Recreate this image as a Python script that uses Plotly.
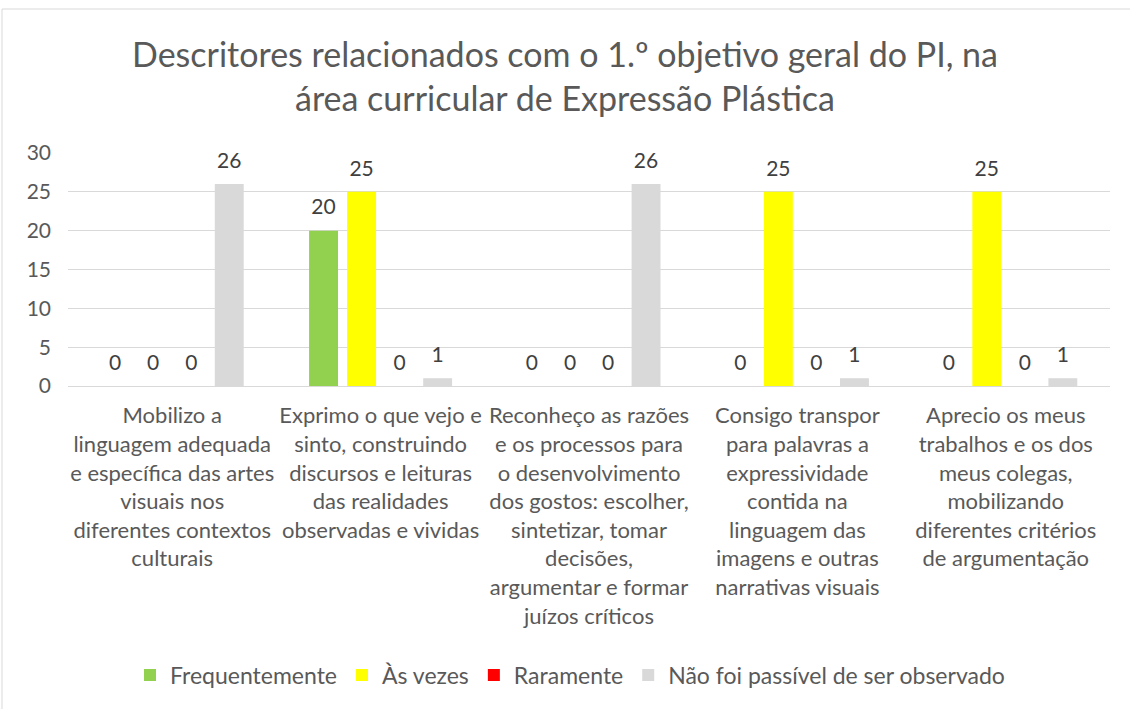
import plotly.graph_objects as go

categories = [
    "Mobilizo a<br>linguagem adequada<br>e específica das artes<br>visuais nos<br>diferentes contextos<br>culturais",
    "Exprimo o que vejo e<br>sinto, construindo<br>discursos e leituras<br>das realidades<br>observadas e vividas",
    "Reconheço as razões<br>e os processos para<br>o desenvolvimento<br>dos gostos: escolher,<br>sintetizar, tomar<br>decisões,<br>argumentar e formar<br>juízos críticos",
    "Consigo transpor<br>para palavras a<br>expressividade<br>contida na<br>linguagem das<br>imagens e outras<br>narrativas visuais",
    "Aprecio os meus<br>trabalhos e os dos<br>meus colegas,<br>mobilizando<br>diferentes critérios<br>de argumentação",
]
series_names = ["Frequentemente", "Às vezes", "Raramente", "Não foi passível de ser observado"]
frequentemente = [0, 20, 0, 0, 0]
as_vezes = [0, 25, 0, 25, 25]
raramente = [0, 0, 0, 0, 0]
nao_observado = [26, 1, 26, 1, 1]
colors = ["#92D050", "#FFFF00", "#FF0000", "#D9D9D9"]
y_ticks = [0, 5, 10, 15, 20, 25, 30]

FONT = "Lato"
TXT = "#595959"
GAP = 0.27

all_series = [frequentemente, as_vezes, raramente, nao_observado]

fig = go.Figure()
for i, (name, vals, col) in enumerate(zip(series_names, all_series, colors)):
    fig.add_trace(go.Bar(
        name=name, x=categories, y=vals,
        marker=dict(color=col, line=dict(width=0)),
        offsetgroup=str(i), hoverinfo="skip",
    ))
# value labels, grouped the same way as the bars
for i, (name, vals) in enumerate(zip(series_names, all_series)):
    fig.add_trace(go.Scatter(
        x=categories, y=vals, mode="markers+text",
        text=[str(v) for v in vals], textposition="top center",
        textfont=dict(family=FONT, size=21, color="#404040"),
        marker=dict(size=16, color="rgba(0,0,0,0)", line=dict(width=0)),
        offsetgroup=str(i), showlegend=False, hoverinfo="skip", cliponaxis=False,
    ))

L, R, T, B = 68, 20, 153, 323
W, H = 1130, 709
pw = W - L - R
ph = H - T - B

fig.update_layout(
    width=W, height=H, autosize=False,
    margin=dict(l=L, r=R, t=T, b=B, autoexpand=False),
    paper_bgcolor="white", plot_bgcolor="white",
    barmode="group", bargap=GAP, bargroupgap=0.24,
    scattermode="group", scattergap=GAP,
    title=dict(
        text="Descritores relacionados com o 1.º objetivo geral do PI, na<br>área curricular de Expressão Plástica",
        x=0.5, xanchor="center", y=1 - 66.5 / H, yanchor="middle",
        font=dict(family=FONT, size=34, color=TXT),
    ),
    font=dict(family=FONT, color=TXT, size=22),
    showlegend=True,
    legend=dict(
        orientation="h", x=(570 - L) / pw, xanchor="center",
        y=-(675 - (H - B)) / ph, yanchor="middle",
        font=dict(family=FONT, size=23, color=TXT), traceorder="normal",
    ),
    xaxis=dict(
        tickfont=dict(family=FONT, size=22, color=TXT),
        showgrid=False, showline=True, linecolor="#D9D9D9", linewidth=1,
        ticks="", tickangle=0, ticklabelstandoff=10,
    ),
    yaxis=dict(
        range=[0, 30], tickvals=y_ticks, ticktext=[str(v) for v in y_ticks],
        tickfont=dict(family=FONT, size=21, color=TXT),
        showgrid=True, gridcolor="#D9D9D9", gridwidth=1,
        zeroline=False, showline=False, ticks="", ticklen=0,
        ticklabelstandoff=16,
    ),
    shapes=[dict(
        type="rect", xref="paper", yref="paper",
        x0=(2 - L) / pw, x1=(W + 5 - L) / pw,
        y0=-(H + 5 - (H - B)) / ph, y1=((H - B) - 9) / ph,
        line=dict(color="#D9D9D9", width=1), fillcolor="rgba(0,0,0,0)", layer="below",
    )],
)

fig.write_html("out.html", config={"displayModeBar": False},
               post_script="document.body.style.margin='0';")
